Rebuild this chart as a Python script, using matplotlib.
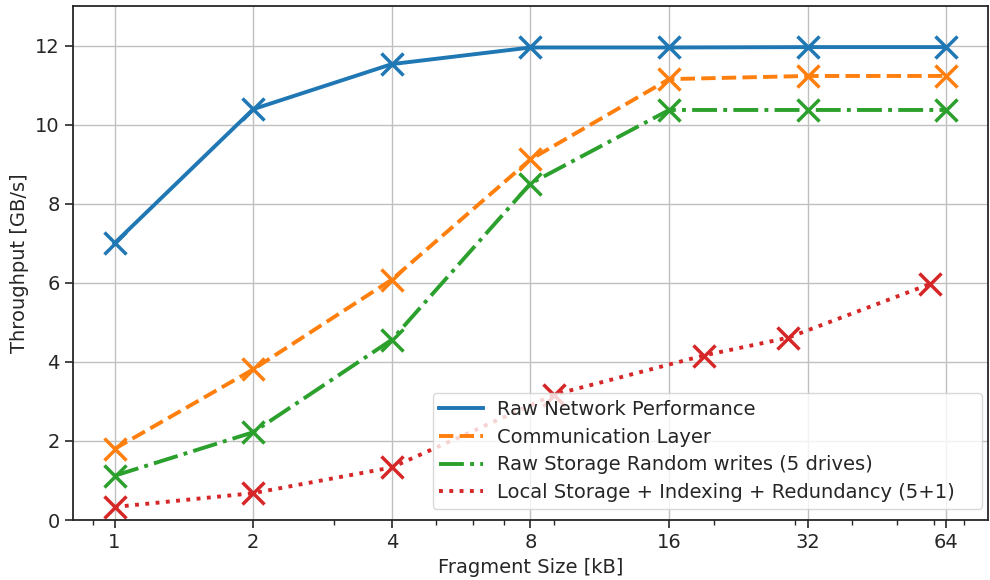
import numpy as np
import matplotlib
matplotlib.use('Agg')
from matplotlib import pyplot as plt
from matplotlib.lines import Line2D
from matplotlib.ticker import FixedLocator, FixedFormatter


sizes = [1, 2, 4, 8, 16, 32, 64]
red_sizes = [1, 2, 4, 9, 19, 29, 59]

raw_network = [7.0, 10.39, 11.53, 11.95, 11.95, 11.96, 11.96]
comm_layer = [1.80, 3.81, 6.08, 9.12, 11.15, 11.23, 11.23]
raw_storage = [1.12, 2.22, 4.56, 8.51, 10.37, 10.37, 10.37]
local_storage = [0.33, 0.68, 1.33, 3.17, 4.16, 4.61, 5.97]

tick_labels = ['1', '2', '4', '8', '16', '32', '64']
labels = ['Raw Network Performance', 'Communication Layer',
          'Raw Storage Random writes (5 drives)',
          'Local Storage + Indexing + Redundancy (5+1)']

plt.rcParams['font.family'] = ['DejaVu Sans']
plt.rcParams['axes.edgecolor'] = '#262626'
plt.rcParams['text.color'] = '#262626'
plt.rcParams['xtick.color'] = '#262626'
plt.rcParams['ytick.color'] = '#262626'
plt.rcParams['axes.labelcolor'] = '#262626'

fig, ax = plt.subplots(figsize=(9.9, 5.8), dpi=100)
fig.subplots_adjust(left=0.0737, right=0.998, top=0.9897, bottom=0.1034)

style = dict(marker='x', markersize=16, markeredgewidth=2.5, linewidth=2.8)
colors = ['tab:blue', 'tab:orange', 'tab:green', 'tab:red']
dashes = ['-', '--', '-.', ':']
ax.plot(sizes, raw_network, dashes[0], color=colors[0], **style)
ax.plot(sizes, comm_layer, dashes[1], color=colors[1], **style)
ax.plot(sizes, raw_storage, dashes[2], color=colors[2], **style)
ax.plot(red_sizes, local_storage, dashes[3], color=colors[3], **style)

ax.set_xscale('log')
ax.xaxis.set_major_locator(FixedLocator(sizes))
ax.xaxis.set_major_formatter(FixedFormatter(tick_labels))
ax.set_ylim(0, 13)
ax.set_yticks([0, 2, 4, 6, 8, 10, 12])

ax.grid(True, which='major', color='#c0c0c0', linewidth=1)
ax.set_axisbelow(True)
ax.tick_params(axis='both', which='major', labelsize=14, length=6, width=1.2)
ax.tick_params(axis='x', which='minor', length=3.5, width=1)
for sp in ax.spines.values():
    sp.set_linewidth(1.3)

ax.set_xlabel('Fragment Size [kB]', fontsize=14)
ax.set_ylabel('Throughput [GB/s]', fontsize=14)

handles = [Line2D([], [], color=c, linestyle=d, linewidth=2.8) for c, d in zip(colors, dashes)]
ax.legend(handles, labels, loc='lower left', mode='expand',
          bbox_to_anchor=(0.393, 0.0214, 0.6, 0.2), borderaxespad=0,
          fontsize=14, handlelength=2.25, handletextpad=0.7,
          framealpha=0.8, edgecolor='#d0d0d0',
          labelspacing=0.45, borderpad=0.35)

fig.savefig('out.png', dpi=100)
